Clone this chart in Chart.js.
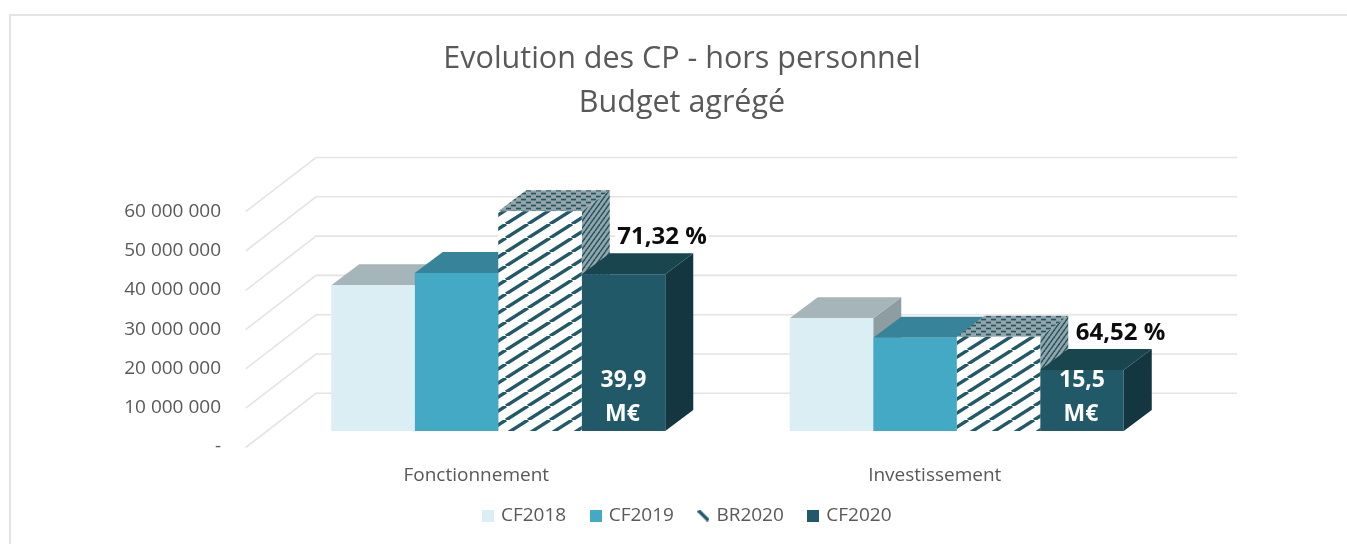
<!DOCTYPE html>
<html><head><meta charset="utf-8">
<style>
html,body{margin:0;padding:0;background:#fff;width:1347px;height:544px;overflow:hidden}
#frame{position:absolute;left:9px;top:14px;width:2000px;height:2000px;border:2px solid #e4e4e4}
#wrap{position:absolute;left:0;top:0;width:1347px;height:544px}
</style>
<script src="https://cdn.jsdelivr.net/npm/chart.js@4"></script>
</head><body>
<div id="frame"></div>
<div id="wrap"><canvas id="c" width="1347" height="544"></canvas></div>
<script>
const categories = ['Fonctionnement', 'Investissement'];
const CF2018 = [37100000, 28700000];
const CF2019 = [40200000, 23700000];
const BR2020 = [55900000, 24000000];
const CF2020 = [39900000, 15500000];
const shareLabels = ['71,32 %', '64,52 %'];
const amountLabels = [['39,9', 'M€'], ['15,5', 'M€']];
const titleLines = ['Evolution des CP - hors personnel', 'Budget agrégé'];

const FONT = '"Open Sans", sans-serif';
const TEAL = '#215968';

function tile(w, h, paint) {
  const t = document.createElement('canvas'); t.width = w; t.height = h;
  paint(t.getContext('2d'), w, h); return t;
}
function stripes(bg, fg, w, h, lw) {
  return tile(w, h, (g) => {
    g.fillStyle = bg; g.fillRect(0, 0, w, h);
    g.strokeStyle = fg; g.lineWidth = lw;
    for (let k = -1; k <= 1; k++) {
      g.beginPath(); g.moveTo(k * w, h); g.lineTo(k * w + w, 0); g.stroke();
    }
  });
}
const ctxMain = document.getElementById('c').getContext('2d');
const frontPattern = ctxMain.createPattern(stripes('#ffffff', TEAL, 22, 14, 3.4), 'repeat');
const topPattern = ctxMain.createPattern(tile(10, 6, (g) => {
  g.fillStyle = '#97a5a9'; g.fillRect(0, 0, 10, 6);
  g.fillStyle = '#1f5666';
  g.fillRect(1, 0.7, 5, 1.7); g.fillRect(6, 3.7, 4, 1.7); g.fillRect(0, 3.7, 1, 1.7);
}), 'repeat');
const sidePattern = ctxMain.createPattern(stripes('#97a5a9', '#1f5666', 5, 7, 1.5), 'repeat');

const faces = [
  { top: '#a6b5b9', side: '#8d9da2' },
  { top: '#37839a', side: '#2c6c80' },
  { top: topPattern, side: sidePattern },
  { top: '#19454f', side: '#133640' }
];

function legendSwatch(color, hatch) {
  return tile(12, 12, (g) => {
    if (hatch) {
      g.strokeStyle = color; g.lineWidth = 3.4;
      g.beginPath(); g.moveTo(1, 1); g.lineTo(11, 11); g.stroke();
    } else { g.fillStyle = color; g.fillRect(0, 0, 12, 12); }
  });
}

const depth3d = {
  id: 'depth3d',
  afterLayout(chart) {
    chart.legend.left += 6;
    chart.legend.right += 6;
    chart.scales.x.bottom += 14; // keep the category labels out of the axis clip box
  },
  beforeDatasetsDraw(chart) {
    const g = chart.ctx, y = chart.scales.y;
    g.save();
    g.strokeStyle = '#e4e4e4'; g.lineWidth = 1.6;
    y.ticks.forEach(t => {
      const p = y.getPixelForValue(t.value);
      g.beginPath();
      g.moveTo(245.7, p + 16.5); g.lineTo(316, p - 37.7); g.lineTo(1237, p - 37.7);
      g.stroke();
    });
    g.restore();
    const dx = 28, dy = 21;
    for (let c = 0; c < categories.length; c++) {
      chart.data.datasets.forEach((ds, i) => {
        const b = chart.getDatasetMeta(i).data[c];
        const l = b.x - b.width / 2, r = b.x + b.width / 2, t = b.y, base = b.base;
        g.save();
        g.fillStyle = faces[i].side;
        g.beginPath();
        g.moveTo(r, t); g.lineTo(r + dx, t - dy); g.lineTo(r + dx, base - dy); g.lineTo(r, base);
        g.closePath(); g.fill();
        g.fillStyle = faces[i].top;
        g.beginPath();
        g.moveTo(l, t); g.lineTo(l + dx, t - dy); g.lineTo(r + dx, t - dy); g.lineTo(r, t);
        g.closePath(); g.fill();
        g.restore();
      });
    }
  },
  afterDatasetsDraw(chart) {
    const g = chart.ctx;
    const last = chart.data.datasets.length - 1;
    g.save();
    g.textAlign = 'center'; g.textBaseline = 'middle';
    g.font = 'bold 24px ' + FONT;
    for (let c = 0; c < categories.length; c++) {
      const b = chart.getDatasetMeta(last).data[c];
      const cx = b.x + 38.5, cy = b.y - 37;
      const w = g.measureText(shareLabels[c]).width;
      g.fillStyle = '#ffffff';
      g.fillRect(cx - w / 2 - 2, cy - 13, w + 4, 26);
      g.fillStyle = '#0d0d0d';
      g.fillText(shareLabels[c], cx, cy);
      g.fillStyle = '#ffffff';
      g.font = 'bold 23px ' + FONT;
      g.fillText(amountLabels[c][0], b.x, b.base - 51);
      g.fillText(amountLabels[c][1], b.x - 1, b.base - 17);
      g.font = 'bold 24px ' + FONT;
    }
    g.restore();
  }
};

new Chart(ctxMain, {
  type: 'bar',
  data: {
    labels: categories,
    datasets: [
      { label: 'CF2018', data: CF2018, backgroundColor: '#daeef3', swatch: legendSwatch('#daeef3') },
      { label: 'CF2019', data: CF2019, backgroundColor: '#44a9c5', swatch: legendSwatch('#44a9c5') },
      { label: 'BR2020', data: BR2020, backgroundColor: frontPattern, swatch: legendSwatch(TEAL, true) },
      { label: 'CF2020', data: CF2020, backgroundColor: TEAL, swatch: legendSwatch(TEAL) }
    ]
  },
  plugins: [depth3d],
  options: {
    responsive: false,
    animation: false,
    layout: { padding: { left: 17, right: 0, top: 0, bottom: 9 } },
    datasets: { bar: { barPercentage: 1, categoryPercentage: 0.7285, borderWidth: 0 } },
    plugins: {
      tooltip: { enabled: false },
      title: {
        display: true, text: titleLines, color: '#595959',
        font: { family: FONT, size: 30.5, weight: 'normal', lineHeight: 1.4426 },
        padding: { top: 37, bottom: 70.2 }
      },
      legend: {
        position: 'bottom',
        labels: {
          font: { family: FONT, size: 19 }, color: '#595959',
          usePointStyle: true, boxWidth: 7, boxHeight: 12, padding: 26,
          generateLabels: (chart) => chart.data.datasets.map((d, i) => ({
            text: d.label, fontColor: '#595959', pointStyle: d.swatch,
            fillStyle: 'transparent', strokeStyle: 'transparent', lineWidth: 0, datasetIndex: i
          }))
        }
      }
    },
    scales: {
      x: {
        grid: { display: false, drawTicks: false }, border: { display: false },
        ticks: { color: '#595959', font: { family: FONT, size: 19 }, padding: 33, maxRotation: 0, labelOffset: -22 },
        afterFit: (s) => { s.height = 49; }
      },
      y: {
        min: 0, max: 60000000,
        grid: { display: false, drawTicks: false }, border: { display: false },
        ticks: {
          stepSize: 10000000, color: '#595959', font: { family: FONT, size: 19 },
          padding: 48, labelOffset: 16,
          callback: (v) => v === 0 ? '-' : String(v).replace(/\B(?=(\d{3})+$)/g, ' ')
        },
        afterFit: (s) => { s.width = 252; }
      },
      yr: {
        position: 'right', display: true, min: 0, max: 1,
        grid: { display: false, drawTicks: false }, border: { display: false },
        ticks: { display: false },
        afterFit: (s) => { s.width = 161; }
      }
    }
  }
});
</script>
</body></html>
